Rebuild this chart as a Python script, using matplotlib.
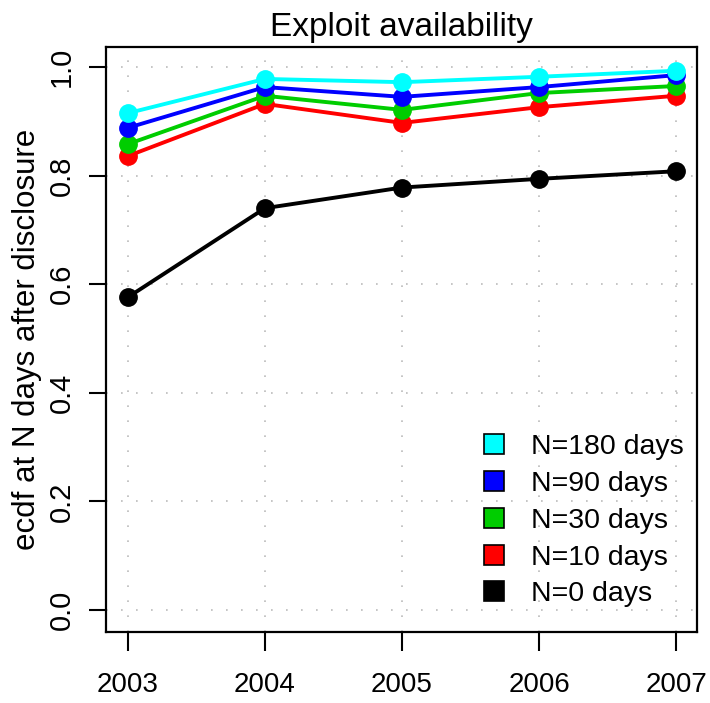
import matplotlib.pyplot as plt
from matplotlib.lines import Line2D

years = [2003, 2004, 2005, 2006, 2007]

# ecdf values, one list per N
n0 = [0.576, 0.740, 0.778, 0.794, 0.808]
n10 = [0.836, 0.932, 0.897, 0.926, 0.947]
n30 = [0.858, 0.947, 0.921, 0.952, 0.965]
n90 = [0.888, 0.963, 0.945, 0.963, 0.985]
n180 = [0.915, 0.978, 0.972, 0.982, 0.993]

labels = ['N=180 days', 'N=90 days', 'N=30 days', 'N=10 days', 'N=0 days']
colors = ['#00FFFF', '#0000FF', '#00CD00', '#FF0000', '#000000']

plt.rcParams['font.family'] = ['Liberation Sans', 'DejaVu Sans']

fig = plt.figure(figsize=(7.1, 7.03), dpi=100)
ax = fig.add_axes([106 / 710, 71 / 703, 591 / 710, 585 / 703])

# draw bottom series first so cyan sits on top
for vals, c in zip([n0, n10, n30, n90, n180], colors[::-1]):
    ax.plot(years, vals, color=c, lw=2.8, marker='o', markersize=12.5, zorder=3)

ax.set_xlim(2002.84, 2007.153)
ax.set_ylim(-0.0405, 1.0368)
ax.set_xticks(years)
ax.set_yticks([0.0, 0.2, 0.4, 0.6, 0.8, 1.0])
ax.set_xticklabels([str(y) for y in years], fontsize=20)
ax.set_yticklabels(['0.0', '0.2', '0.4', '0.6', '0.8', '1.0'],
                   fontsize=21, rotation=90, va='center')
ax.tick_params(axis='x', direction='out', length=14, width=1.5, pad=15)
ax.tick_params(axis='y', direction='out', length=12, width=1.5, pad=10)
for s in ax.spines.values():
    s.set_linewidth(1.6)

ax.grid(True, color='#BBBBBB', linestyle=(0, (1, 8)), linewidth=1.2)

ax.set_title('Exploit availability', fontsize=24, pad=8)
ax.set_ylabel('ecdf at N days after disclosure', fontsize=22.5, labelpad=4)

handles = [Line2D([], [], marker='s', linestyle='none', markersize=14,
                  markerfacecolor=c, markeredgecolor='black', markeredgewidth=1.2)
           for c in colors]
ax.legend(handles, labels, loc='lower right', bbox_to_anchor=(1.012, 0.008),
          frameon=False, prop={'size': 20.5},
          handletextpad=0.8, labelspacing=0.38, borderpad=0.2, handlelength=1.0)

plt.savefig('out.png', dpi=100)
